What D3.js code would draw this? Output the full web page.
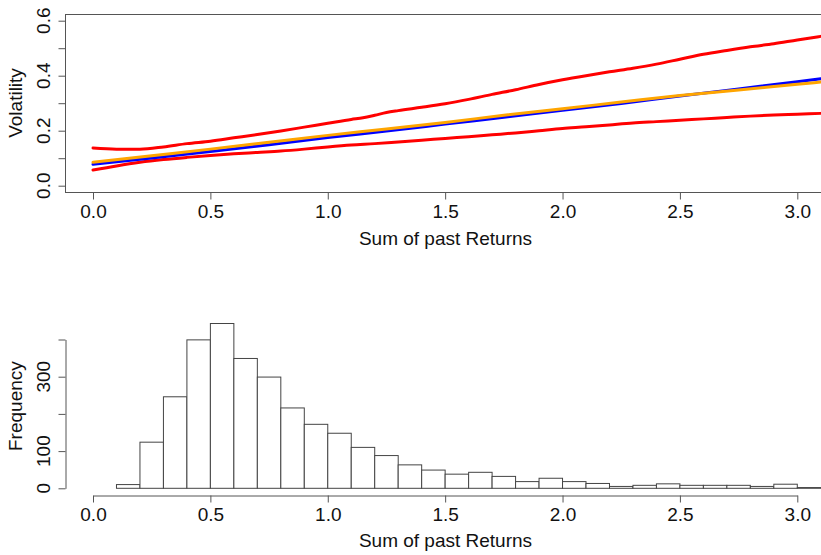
<!DOCTYPE html>
<html>
<head>
<meta charset="utf-8">
<script src="https://cdn.jsdelivr.net/npm/d3@7"></script>
<style>
  html, body { margin: 0; padding: 0; background: #fff; }
  svg { display: block; }
  text { font-family: "Liberation Sans", Arial, sans-serif; fill: #111; }
</style>
</head>
<body>
<svg id="chart" width="821" height="555"></svg>
<script>
// ---- Volatility curves (x = sum of past returns) ----
const upperX = [0.00,0.10,0.20,0.30,0.40,0.50,0.60,0.70,0.80,0.90,1.00,1.10,1.15,1.20,1.25,1.30,1.40,1.50,1.60,1.70,1.80,1.90,2.00,2.10,2.20,2.30,2.40,2.50,2.60,2.70,2.80,2.90,3.00,3.10];
const upperBand = [0.137,0.133,0.133,0.141,0.153,0.162,0.174,0.186,0.199,0.213,0.227,0.241,0.247,0.256,0.266,0.273,0.285,0.298,0.314,0.332,0.349,0.368,0.385,0.400,0.414,0.427,0.442,0.460,0.478,0.492,0.505,0.516,0.530,0.543];

const lowerX = [0.00,0.10,0.20,0.30,0.40,0.50,0.60,0.70,0.80,0.90,1.00,1.10,1.20,1.30,1.40,1.50,1.60,1.70,1.80,1.90,2.00,2.10,2.20,2.30,2.40,2.50,2.60,2.70,2.80,2.90,3.00,3.10];
const lowerBand = [0.057,0.072,0.085,0.095,0.103,0.110,0.116,0.121,0.126,0.133,0.141,0.148,0.153,0.159,0.165,0.172,0.178,0.185,0.192,0.200,0.208,0.214,0.221,0.228,0.233,0.238,0.243,0.248,0.253,0.257,0.260,0.263];

const fitX = [0.00,0.25,0.50,0.75,1.00,1.25,1.50,1.75,2.00,2.25,2.50,2.75,3.00,3.10];
const blueFit = [0.078,0.101,0.124,0.149,0.175,0.199,0.224,0.249,0.274,0.299,0.326,0.352,0.378,0.389];
const orangeFit = [0.085,0.109,0.133,0.158,0.183,0.206,0.230,0.256,0.280,0.304,0.328,0.348,0.369,0.377];

// ---- Histogram of sums of past returns (bin width 0.1) ----
const binLower = [0.1,0.2,0.3,0.4,0.5,0.6,0.7,0.8,0.9,1.0,1.1,1.2,1.3,1.4,1.5,1.6,1.7,1.8,1.9,2.0,2.1,2.2,2.3,2.4,2.5,2.6,2.7,2.8,2.9,3.0];
const binWidth = 0.1;
const counts = [10,124,246,399,443,349,299,216,172,148,110,88,63,49,38,43,32,18,27,18,13,5,8,12,8,8,8,5,11,2];

// ---- Axis ticks ----
const xTicks = [0, 0.5, 1.0, 1.5, 2.0, 2.5, 3.0];
const volTicks = [0, 0.1, 0.2, 0.3, 0.4, 0.5, 0.6];
const volLabels = [0, 0.2, 0.4, 0.6];
const freqTicks = [0, 100, 200, 300, 400];
const freqLabels = [0, 100, 300];

const svg = d3.select("#chart");
const axisColor = "#555";

const x = d3.scaleLinear().domain([0, 3]).range([93, 797.3]);

// ================= Top panel =================
const yTop = d3.scaleLinear().domain([0, 0.6]).range([185.7, 20.7]);
const topBox = { left: 65, right: 826, top: 14, bottom: 192 };

svg.append("defs").append("clipPath").attr("id", "topClip")
  .append("rect")
  .attr("x", topBox.left).attr("y", topBox.top)
  .attr("width", topBox.right - topBox.left).attr("height", topBox.bottom - topBox.top);

svg.append("rect")
  .attr("x", topBox.left + 0.5).attr("y", topBox.top + 0.5)
  .attr("width", topBox.right - topBox.left).attr("height", topBox.bottom - topBox.top)
  .attr("fill", "none").attr("stroke", axisColor).attr("stroke-width", 1);

// x axis (top panel)
const xAxisTop = d3.axisBottom(x).tickValues(xTicks).tickSize(7).tickFormat(d3.format(".1f"));
const gxt = svg.append("g").attr("transform", `translate(0,${topBox.bottom + 0.5})`).call(xAxisTop);
gxt.select(".domain").remove();
gxt.selectAll(".tick line").attr("stroke", axisColor);
gxt.selectAll(".tick text").attr("y", 25).attr("dy", 0).style("font-size", "19px")
  .style("font-family", "'Liberation Sans', Arial, sans-serif").attr("fill", "#111");

// y axis (top panel)
const yAxisTop = d3.axisLeft(yTop).tickValues(volTicks).tickSize(7).tickFormat("");
const gyt = svg.append("g").attr("transform", `translate(${topBox.left + 0.5},0)`).call(yAxisTop);
gyt.select(".domain").remove();
gyt.selectAll(".tick line").attr("stroke", axisColor);
svg.append("g").selectAll("text").data(volLabels).join("text")
  .attr("transform", d => `translate(50,${yTop(d)}) rotate(-90)`)
  .attr("text-anchor", "middle")
  .style("font-size", "19px")
  .text(d3.format(".1f"));

svg.append("text")
  .attr("transform", `translate(22,${(topBox.top + topBox.bottom) / 2}) rotate(-90)`)
  .attr("text-anchor", "middle").style("font-size", "19px").text("Volatility");
svg.append("text")
  .attr("x", (topBox.left + topBox.right) / 2).attr("y", 245)
  .attr("text-anchor", "middle").style("font-size", "19px").text("Sum of past Returns");

const lineGen = d3.line().x(d => x(d[0])).y(d => yTop(d[1])).curve(d3.curveMonotoneX);
const curves = [
  { xs: upperX, ys: upperBand, color: "#ff0000" },
  { xs: lowerX, ys: lowerBand, color: "#ff0000" },
  { xs: fitX, ys: blueFit, color: "#0000ff" },
  { xs: fitX, ys: orangeFit, color: "#ffa500" }
];
const gLines = svg.append("g").attr("clip-path", "url(#topClip)");
curves.forEach(c => {
  gLines.append("path")
    .datum(d3.zip(c.xs, c.ys))
    .attr("d", lineGen)
    .attr("fill", "none")
    .attr("stroke", c.color)
    .attr("stroke-width", 3)
    .attr("stroke-linejoin", "round")
    .attr("stroke-linecap", "round");
});

// ================= Bottom panel =================
const yBot = d3.scaleLinear().domain([0, 400]).range([488.3, 339.5]);
const botLeft = 65, botAxisY = 495.5, botTop = 316.7;

svg.append("g").selectAll("rect").data(d3.zip(binLower, counts)).join("rect")
  .attr("x", d => x(d[0]))
  .attr("y", d => yBot(d[1]))
  .attr("width", d => x(d[0] + binWidth) - x(d[0]))
  .attr("height", d => yBot(0) - yBot(d[1]))
  .attr("fill", "#fff")
  .attr("stroke", "#444")
  .attr("stroke-width", 1);

// x axis (bottom panel)
const xAxisBot = d3.axisBottom(x).tickValues(xTicks).tickSize(7).tickSizeOuter(0).tickFormat(d3.format(".1f"));
const gxb = svg.append("g").attr("transform", `translate(0,${botAxisY})`).call(xAxisBot);
gxb.select(".domain").attr("stroke", axisColor);
gxb.selectAll(".tick line").attr("stroke", axisColor);
gxb.selectAll(".tick text").attr("y", 25).attr("dy", 0).style("font-size", "19px")
  .style("font-family", "'Liberation Sans', Arial, sans-serif").attr("fill", "#111");

// y axis (bottom panel)
const yAxisBot = d3.axisLeft(yBot).tickValues(freqTicks).tickSize(7).tickSizeOuter(0).tickFormat("");
const gyb = svg.append("g").attr("transform", `translate(${botLeft + 0.5},0)`).call(yAxisBot);
gyb.select(".domain").attr("stroke", axisColor);
gyb.selectAll(".tick line").attr("stroke", axisColor);
svg.append("g").selectAll("text").data(freqLabels).join("text")
  .attr("transform", d => `translate(50,${yBot(d)}) rotate(-90)`)
  .attr("text-anchor", "middle")
  .style("font-size", "19px")
  .text(d => d);

svg.append("text")
  .attr("transform", `translate(22,${(botTop + botAxisY) / 2}) rotate(-90)`)
  .attr("text-anchor", "middle").style("font-size", "19px").text("Frequency");
svg.append("text")
  .attr("x", (topBox.left + topBox.right) / 2).attr("y", 547)
  .attr("text-anchor", "middle").style("font-size", "19px").text("Sum of past Returns");
</script>
</body>
</html>
